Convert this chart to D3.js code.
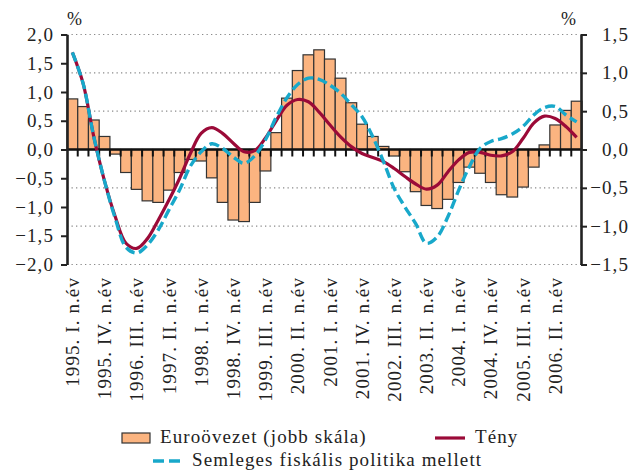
<!DOCTYPE html>
<html>
<head>
<meta charset="utf-8">
<script src="https://cdn.jsdelivr.net/npm/d3@7"></script>
<style>
  body { margin: 0; background: #fff; }
</style>
</head>
<body>
<svg id="chart" width="629" height="472"></svg>
<script>
// quarters 1995 I. - 2006 IV.
const years = d3.range(1995, 2007);
const romans = ['I.', 'II.', 'III.', 'IV.'];
const categories = years.flatMap(y => romans.map(r => `${y}. ${r} n.év`));

// labels shown on the x axis (every 3rd quarter)
const tickLabels = [
  '1995. I. n.év', '1995. IV. n.év', '1996. III. n.év', '1997. II. n.év',
  '1998. I. n.év', '1998. IV. n.év', '1999. III. n.év', '2000. II. n.év',
  '2001. I. n.év', '2001. IV. n.év', '2002. III. n.év', '2003. II. n.év',
  '2004. I. n.év', '2004. IV. n.év', '2005. III. n.év', '2006. II. n.év',
];

// Euroövezet (jobb skála), %
const euro = [
  0.66, 0.56, 0.385, 0.17, -0.06, -0.30, -0.52, -0.67, -0.69, -0.53,
  -0.30, -0.13, -0.15, -0.37, -0.69, -0.92, -0.94, -0.69, -0.28, 0.22,
  0.67, 1.03, 1.235, 1.30, 1.18, 0.93, 0.61, 0.33, 0.17, 0.04,
  -0.085, -0.29, -0.55, -0.73, -0.77, -0.65, -0.43, -0.23, -0.31, -0.43,
  -0.59, -0.62, -0.49, -0.23, 0.06, 0.32, 0.51, 0.63,
];

// Tény (bal skála), %
const teny = [
  1.69, 1.15, 0.22, -0.55, -1.17, -1.63, -1.72, -1.55, -1.23, -0.88,
  -0.50, -0.07, 0.28, 0.38, 0.28, 0.11, -0.04, -0.02, 0.20, 0.50,
  0.77, 0.87, 0.83, 0.65, 0.43, 0.22, 0.05, -0.07, -0.14, -0.21,
  -0.33, -0.47, -0.60, -0.69, -0.62, -0.39, -0.18, -0.05, -0.05, -0.10,
  -0.11, -0.04, 0.19, 0.46, 0.58, 0.54, 0.40, 0.21,
];

// Semleges fiskális politika mellett (bal skála), %
const semleges = [
  1.69, 1.15, 0.22, -0.55, -1.20, -1.70, -1.80, -1.66, -1.40, -1.05,
  -0.70, -0.29, -0.04, 0.10, 0.02, -0.13, -0.24, -0.11, 0.17, 0.56,
  0.90, 1.13, 1.24, 1.22, 1.12, 0.98, 0.78, 0.57, 0.22, -0.21,
  -0.68, -1.00, -1.29, -1.63, -1.52, -1.17, -0.71, -0.30, 0.02, 0.14,
  0.19, 0.27, 0.40, 0.60, 0.73, 0.75, 0.60, 0.48,
];

const leftTicks = [-2, -1.5, -1, -0.5, 0, 0.5, 1, 1.5, 2];
const rightTicks = [-1.5, -1, -0.5, 0, 0.5, 1, 1.5];

const colors = { bar: '#fbb480', red: '#9b0a38', cyan: '#18a8ca' };

const plot = { left: 67, right: 582, top: 34.5, bottom: 264.5 };
const FONT = '"Liberation Serif", "Times New Roman", serif';

const svg = d3.select('#chart');

const serif = (sel, size) => sel
  .style('font-family', FONT)
  .style('font-size', `${size}px`)
  .style('letter-spacing', '1.1px')
  .attr('fill', '#222');

const xScale = d3.scaleBand()
  .domain(categories)
  .range([plot.left, plot.right])
  .padding(0);
const yLeft = d3.scaleLinear().domain([-2, 2]).range([plot.bottom, plot.top]);
const yRight = d3.scaleLinear().domain([-1.5, 1.5]).range([plot.bottom, plot.top]);

const fmt = d => d3.format('.1f')(d).replace('.', ',');
const bw = xScale.bandwidth();
const cx = i => xScale(categories[i]) + bw / 2;

// dotted gridlines on the right scale
svg.append('g')
  .selectAll('line')
  .data(rightTicks.filter(d => d !== 0))
  .enter()
  .append('line')
  .attr('x1', plot.left)
  .attr('x2', plot.right)
  .attr('y1', d => yRight(d))
  .attr('y2', d => yRight(d))
  .attr('stroke', '#8a8a8a')
  .attr('stroke-width', 1.2)
  .attr('stroke-dasharray', '1.3,3.2');

// bars
svg.append('g')
  .selectAll('rect')
  .data(euro)
  .enter()
  .append('rect')
  .attr('x', (d, i) => xScale(categories[i]))
  .attr('width', bw)
  .attr('y', d => Math.min(yRight(d), yRight(0)))
  .attr('height', d => Math.abs(yRight(d) - yRight(0)))
  .attr('fill', colors.bar)
  .attr('stroke', '#333')
  .attr('stroke-width', 1.2);

// zero line + quarter ticks
const y0 = yLeft(0);
svg.append('line')
  .attr('x1', plot.left)
  .attr('x2', plot.right)
  .attr('y1', y0)
  .attr('y2', y0)
  .attr('stroke', '#111')
  .attr('stroke-width', 2.6);

svg.append('g')
  .selectAll('line')
  .data(categories.slice(1))
  .enter()
  .append('line')
  .attr('x1', d => xScale(d))
  .attr('x2', d => xScale(d))
  .attr('y1', y0)
  .attr('y2', y0 + 7)
  .attr('stroke', '#111')
  .attr('stroke-width', 2);

// lines
const lineOf = (scale) => d3.line()
  .x((d, i) => cx(i))
  .y(d => scale(d))
  .curve(d3.curveCatmullRom.alpha(0.5));

svg.append('path')
  .datum(teny)
  .attr('d', lineOf(yLeft))
  .attr('fill', 'none')
  .attr('stroke', colors.red)
  .attr('stroke-width', 3.2);

svg.append('path')
  .datum(semleges)
  .attr('d', lineOf(yLeft))
  .attr('fill', 'none')
  .attr('stroke', colors.cyan)
  .attr('stroke-width', 3.4)
  .attr('stroke-dasharray', '10,4.5');

// axes
const gL = svg.append('g')
  .attr('transform', `translate(${plot.left},0)`)
  .call(d3.axisLeft(yLeft).tickValues(leftTicks).tickSize(6).tickSizeOuter(0)
    .tickPadding(7).tickFormat(fmt));
gL.select('.domain').attr('stroke', '#222').attr('stroke-width', 2.6);
gL.selectAll('.tick line').attr('stroke', '#222').attr('stroke-width', 2);
gL.selectAll('.tick text').call(serif, 19);

const gR = svg.append('g')
  .attr('transform', `translate(${plot.right - 1},0)`)
  .call(d3.axisRight(yRight).tickValues(rightTicks).tickSize(6).tickSizeOuter(0)
    .tickFormat(fmt));
gR.select('.domain').attr('stroke', '#222').attr('stroke-width', 2.6);
gR.selectAll('.tick line').attr('stroke', '#222').attr('stroke-width', 2);
gR.selectAll('.tick text')
  .attr('x', 629 - (plot.right - 1))
  .attr('text-anchor', 'end')
  .call(serif, 19);

svg.append('text').attr('x', 67).attr('y', 25).text('%').call(serif, 18);
svg.append('text').attr('x', 561).attr('y', 25).text('%').call(serif, 18);

// x labels
svg.append('g')
  .selectAll('text')
  .data(tickLabels)
  .enter()
  .append('text')
  .attr('transform', (d, i) => `translate(${cx(i * 3)},277) rotate(-90)`)
  .attr('text-anchor', 'end')
  .attr('dy', '0.35em')
  .text(d => d)
  .call(serif, 19);

// legend
const lg = svg.append('g');
lg.append('rect')
  .attr('x', 122).attr('y', 433).attr('width', 28).attr('height', 10)
  .attr('fill', colors.bar).attr('stroke', '#333').attr('stroke-width', 1.2);
lg.append('text').attr('x', 160).attr('y', 443).text('Euroövezet (jobb skála)').call(serif, 19);
lg.append('line')
  .attr('x1', 435).attr('x2', 465).attr('y1', 438).attr('y2', 438)
  .attr('stroke', colors.red).attr('stroke-width', 3.2);
lg.append('text').attr('x', 475).attr('y', 443).text('Tény').call(serif, 19);
lg.append('line')
  .attr('x1', 153).attr('x2', 182).attr('y1', 461).attr('y2', 461)
  .attr('stroke', colors.cyan).attr('stroke-width', 3.4)
  .attr('stroke-dasharray', '11,5');
lg.append('text').attr('x', 192).attr('y', 466).text('Semleges fiskális politika mellett').call(serif, 19);
</script>
</body>
</html>
